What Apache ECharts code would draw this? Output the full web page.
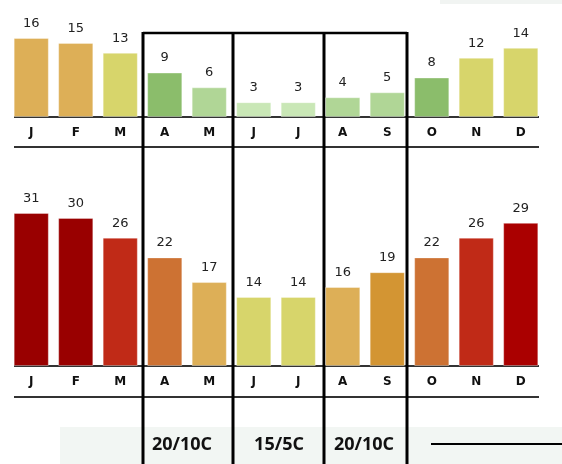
<!DOCTYPE html>
<html lang="en">
<head>
    <meta charset="UTF-8">
    <script src="https://cdn.jsdelivr.net/npm/echarts@6/dist/echarts.min.js"></script>
    <title>Climate chart</title>
    <style>
        html, body {
            margin: 0;
            padding: 0;
            background: #fff;
        }

        #main {
            width: 562px;
            height: 464px;
        }
    </style>
</head>

<body>
<div id="main"></div>
<script type="text/javascript">
    // months and values
    var months = ['J', 'F', 'M', 'A', 'M', 'J', 'J', 'A', 'S', 'O', 'N', 'D'];
    var topValues = [16, 15, 13, 9, 6, 3, 3, 4, 5, 8, 12, 14];
    var bottomValues = [31, 30, 26, 22, 17, 14, 14, 16, 19, 22, 26, 29];
    var periodLabels = ['20/10C', '15/5C', '20/10C'];

    // bar colours
    var topColors = ['#ddaf57', '#ddaf57', '#d7d56b', '#8bbd6b', '#b0d696', '#c9e7b6',
        '#c9e7b6', '#b0d696', '#b0d696', '#8bbd6b', '#d7d56b', '#d7d56b'];
    var bottomColors = ['#990000', '#990000', '#c02a17', '#cd7233', '#ddaf57', '#d7d56b',
        '#d7d56b', '#ddaf57', '#d39533', '#cd7233', '#c02a17', '#aa0000'];

    var myChart = echarts.init(document.getElementById('main'));

    function barSeries(values, colors, idx) {
        return {
            type: 'bar',
            xAxisIndex: idx,
            yAxisIndex: idx,
            barCategoryGap: '21%',
            data: values.map(function (v, i) {
                return {value: v, itemStyle: {color: colors[i]}};
            }),
            itemStyle: {
                borderColor: 'rgba(255,255,255,0.35)',
                borderWidth: 1
            },
            label: {
                show: true,
                position: 'top',
                distance: 8,
                fontFamily: 'DejaVu Sans',
                fontSize: 13,
                color: '#222'
            },
            silent: true
        };
    }

    function xAxisFor(idx) {
        return {
            type: 'category',
            gridIndex: idx,
            data: months,
            axisLine: {show: false},
            axisTick: {show: false},
            axisLabel: {
                margin: 10,
                fontFamily: 'DejaVu Sans',
                fontWeight: 'bold',
                fontSize: 12,
                color: '#111'
            }
        };
    }

    function yAxisFor(idx, max) {
        return {
            type: 'value',
            gridIndex: idx,
            min: 0,
            max: max,
            show: false,
            splitLine: {show: false}
        };
    }

    var option = {
        animation: false,
        grid: [
            {left: 9, width: 534, top: 33, height: 84},
            {left: 9, width: 534, top: 208, height: 158}
        ],
        xAxis: [xAxisFor(0), xAxisFor(1)],
        yAxis: [yAxisFor(0, 17), yAxisFor(1, 32)],
        series: [
            barSeries(topValues, topColors, 0),
            barSeries(bottomValues, bottomColors, 1)
        ]
    };
    myChart.setOption(option);

    // decoration: rule lines, period boxes, labels, faint background
    var topBase = myChart.convertToPixel({yAxisIndex: 0}, 0);
    var botBase = myChart.convertToPixel({yAxisIndex: 1}, 0);
    var boxX = [143, 233, 324, 407];
    var labelX = [182, 279, 364];
    var g = [];

    g.push({type: 'rect', z: -10, shape: {x: 60, y: 427, width: 502, height: 37},
        style: {fill: '#f2f6f3'}});
    g.push({type: 'rect', z: -10, shape: {x: 440, y: 0, width: 122, height: 4},
        style: {fill: '#f1f4f2'}});

    [topBase, topBase + 30, botBase, botBase + 31].forEach(function (y) {
        g.push({type: 'line', shape: {x1: 14, y1: y, x2: 539, y2: y},
            style: {stroke: '#333', lineWidth: 2}});
    });

    boxX.forEach(function (x) {
        g.push({type: 'line', shape: {x1: x, y1: 32, x2: x, y2: 464},
            style: {stroke: '#000', lineWidth: 3}});
    });
    g.push({type: 'line', shape: {x1: boxX[0], y1: 33, x2: boxX[3], y2: 33},
        style: {stroke: '#000', lineWidth: 2.5}});

    periodLabels.forEach(function (t, i) {
        g.push({type: 'text', x: labelX[i], y: 445,
            style: {text: t, align: 'center', verticalAlign: 'middle',
                fontFamily: 'Open Sans', fontWeight: 'bold', fontSize: 18, fill: '#111'}});
    });

    g.push({type: 'line', shape: {x1: 431, y1: 444, x2: 562, y2: 444},
        style: {stroke: '#000', lineWidth: 2}});

    myChart.setOption({graphic: g});
</script>
</body>

</html>
